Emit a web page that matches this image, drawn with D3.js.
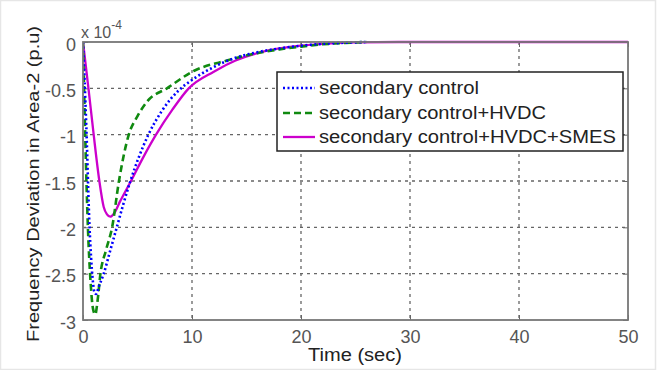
<!DOCTYPE html>
<html><head><meta charset="utf-8">
<script src="https://cdn.jsdelivr.net/npm/d3@7/dist/d3.min.js"></script>
<style>body{margin:0;background:#fff}svg{display:block}text{font-family:"Liberation Sans",Arial,sans-serif}</style>
</head><body>
<svg id="c" width="659" height="370"></svg>
<script>
// Data (values in units of 1e-4 p.u.)
const xTicks = [0,10,20,30,40,50];
const yTicks = [0,-0.5,-1,-1.5,-2,-2.5,-3];
const yTickLabels = ["0","-0.5","-1","-1.5","-2","-2.5","-3"];
const seriesNames = ["secondary  control","secondary control+HVDC","secondary control+HVDC+SMES"];

const tBlue = [0,0.3,0.6,0.88,1.05,1.2,1.45,1.9,2.5,3.1,3.7,4.35,5.1,6.0,7.2,8.8,10,12,14,16,18,20,22,24,26];
const vBlue = [0,-0.9,-2.0,-2.55,-2.7,-2.72,-2.64,-2.5,-2.25,-2.0,-1.75,-1.5,-1.25,-1.0,-0.75,-0.52,-0.41,-0.27,-0.17,-0.11,-0.07,-0.04,-0.02,-0.008,0];

const tGreen = [0,0.2,0.45,0.7,0.92,1.13,1.33,1.6,2.1,2.67,3.3,4.2,5.0,5.9,7.7,10.2,13.2,16,18,20,22,24,26];
const vGreen = [0,-1.0,-2.0,-2.6,-2.88,-2.94,-2.8,-2.5,-2.25,-2.0,-1.5,-1.0,-0.8,-0.64,-0.5,-0.31,-0.2,-0.12,-0.08,-0.05,-0.025,-0.01,0];

const tMag = [0,0.5,0.98,1.5,1.9,2.2,2.5,2.85,3.4,4.4,5.5,6.7,8.2,9.7,12,14,16,18,20,22,25,30,40,50];
const vMag = [0,-0.5,-1.0,-1.5,-1.78,-1.86,-1.885,-1.85,-1.72,-1.5,-1.25,-1.0,-0.73,-0.5,-0.32,-0.2,-0.12,-0.07,-0.04,-0.02,-0.005,0,0,0];

const svg = d3.select("#c");
const L = 83, R = 628, T = 42, B = 320;
const x = d3.scaleLinear().domain([0,50]).range([L,R]);
const y = d3.scaleLinear().domain([-3,0]).range([B,T]);

// outer frame
svg.append("rect").attr("x",0.5).attr("y",0.5).attr("width",655).attr("height",369)
  .attr("fill","#fff").attr("stroke","#e6e6e6").attr("stroke-width",1.5);

// grid
const g = svg.append("g");
g.selectAll(".gx").data(xTicks.slice(1,-1)).join("line")
  .attr("x1",d=>x(d)).attr("x2",d=>x(d)).attr("y1",T).attr("y2",B)
  .attr("stroke","#666").attr("stroke-width",1.3).attr("stroke-dasharray","3,4");
g.selectAll(".gy").data(yTicks.slice(1,-1)).join("line")
  .attr("y1",d=>y(d)).attr("y2",d=>y(d)).attr("x1",L).attr("x2",R)
  .attr("stroke","#666").attr("stroke-width",1.3).attr("stroke-dasharray","3,4");

// axes via d3 axis (inward ticks)
const xAx = d3.axisBottom(x).tickValues(xTicks).tickSizeInner(-5).tickSizeOuter(0).tickPadding(10);
const yAx = d3.axisLeft(y).tickValues(yTicks).tickFormat((d,i)=>yTickLabels[i]).tickSizeInner(-5).tickSizeOuter(0).tickPadding(7);
const gx = svg.append("g").attr("transform",`translate(0,${B})`).call(xAx);
const gy = svg.append("g").attr("transform",`translate(${L},0)`).call(yAx);
[gx,gy].forEach(a=>{
  a.select(".domain").remove();
  a.selectAll(".tick line").attr("stroke","#666").attr("stroke-width",1);
  a.selectAll("text").attr("fill","#555").attr("font-size",18);
});
gx.selectAll("text").attr("dy","0.72em");
gy.selectAll("text").attr("dy","0.45em");
// top/right ticks
svg.append("g").attr("transform",`translate(0,${T})`).call(d3.axisTop(x).tickValues(xTicks).tickSizeInner(-5).tickSizeOuter(0).tickFormat(""))
  .call(a=>{a.select(".domain").remove();a.selectAll("line").attr("stroke","#666");});
svg.append("g").attr("transform",`translate(${R},0)`).call(d3.axisRight(y).tickValues(yTicks).tickSizeInner(-5).tickSizeOuter(0).tickFormat(""))
  .call(a=>{a.select(".domain").remove();a.selectAll("line").attr("stroke","#666");});

// lines
const line = (ts,vs)=>d3.line().x((d,i)=>x(ts[i])).y(d=>y(d)).curve(d3.curveMonotoneX)(vs);
const clip = svg.append("clipPath").attr("id","pc").append("rect").attr("x",L).attr("y",T-3).attr("width",R-L+2).attr("height",B-T+3);
const lg = svg.append("g").attr("clip-path","url(#pc)");
lg.append("path").attr("d",line(tMag,vMag)).attr("fill","none").attr("stroke","#cc00cc").attr("stroke-width",2.3);
lg.append("path").attr("d",line(tGreen,vGreen)).attr("fill","none").attr("stroke","#108a10").attr("stroke-width",2.6).attr("stroke-dasharray","7,4");
lg.append("path").attr("d",line(tBlue,vBlue)).attr("fill","none").attr("stroke","#0000ff").attr("stroke-width",2.6).attr("stroke-dasharray","2,2.5");

// axes box
svg.append("rect").attr("x",L).attr("y",T).attr("width",R-L).attr("height",B-T)
  .attr("fill","none").attr("stroke","#777").attr("stroke-width",1.8);

// exponent label
const ex = svg.append("text").attr("x",81).attr("y",38).attr("fill","#555").attr("font-size",16);
ex.append("tspan").text("x 10");
ex.append("tspan").attr("font-size",12).attr("dy",-9).text("-4");

// axis labels
svg.append("text").attr("x",355).attr("y",361).attr("text-anchor","middle").attr("font-size",18).attr("fill","#222")
  .attr("textLength",94).attr("lengthAdjust","spacingAndGlyphs").text("Time (sec)");
svg.append("text").attr("transform","translate(39,184) rotate(-90)").attr("text-anchor","middle").attr("font-size",17).attr("fill","#222")
  .attr("textLength",316).attr("lengthAdjust","spacingAndGlyphs").text("Frequency Deviation in Area-2 (p.u)");

// legend
const lgd = svg.append("g");
lgd.append("rect").attr("x",277).attr("y",72).attr("width",346).attr("height",79)
  .attr("fill","#fff").attr("stroke","#222").attr("stroke-width",1.5);
const legY = [88,113,137];
const legW = [160,227,297];
const legStyle = [
  {c:"#0000ff",d:"2,2.5",w:2.6},
  {c:"#108a10",d:"7,4",w:2.6},
  {c:"#cc00cc",d:null,w:2.3}
];
seriesNames.forEach((n,i)=>{
  lgd.append("line").attr("x1",283).attr("x2",315).attr("y1",legY[i]).attr("y2",legY[i])
    .attr("stroke",legStyle[i].c).attr("stroke-width",legStyle[i].w).attr("stroke-dasharray",legStyle[i].d);
  lgd.append("text").attr("x",319).attr("y",legY[i]+6).attr("font-size",18).attr("fill","#222")
    .attr("textLength",legW[i]).attr("lengthAdjust","spacingAndGlyphs").text(n);
});
</script>
</body></html>
